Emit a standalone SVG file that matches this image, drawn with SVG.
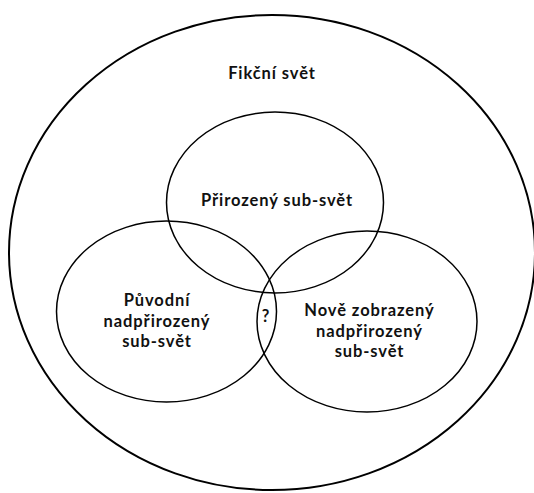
<svg xmlns="http://www.w3.org/2000/svg" width="534" height="493" viewBox="0 0 534 493">
<style>
.c{fill:none;stroke:#000;stroke-width:1.5}
.t{font-family:Lato,"Open Sans","Liberation Sans",sans-serif;font-weight:bold;font-size:16.5px;letter-spacing:0.9px;fill:#111;text-anchor:middle}
</style>
<rect width="534" height="493" fill="#fff"/>
<g id="fikcni-svet">
<ellipse class="c" cx="272" cy="252.5" rx="263" ry="237.5" style="stroke-width:2"/>
<text class="t" x="272" y="79">Fikční svět</text>
</g>
<g id="prirozeny">
<ellipse class="c" cx="275" cy="202.5" rx="108.5" ry="90.5"/>
<text class="t" x="277" y="206">Přirozený sub-svět</text>
</g>
<g id="puvodni">
<ellipse class="c" cx="166.5" cy="311.5" rx="110" ry="90.5"/>
<text class="t" x="157" y="306">Původní</text>
<text class="t" x="157" y="327">nadpřirozený</text>
<text class="t" x="157" y="347">sub-svět</text>
</g>
<g id="nove">
<ellipse class="c" cx="367" cy="321.5" rx="110" ry="90.5"/>
<text class="t" x="369.5" y="316">Nově zobrazený</text>
<text class="t" x="369.5" y="336.5">nadpřirozený</text>
<text class="t" x="369.5" y="356.5">sub-svět</text>
</g>
<g id="prunik">
<text class="t" x="266" y="321.5">?</text>
</g>
<g id="connectors"></g>
</svg>
